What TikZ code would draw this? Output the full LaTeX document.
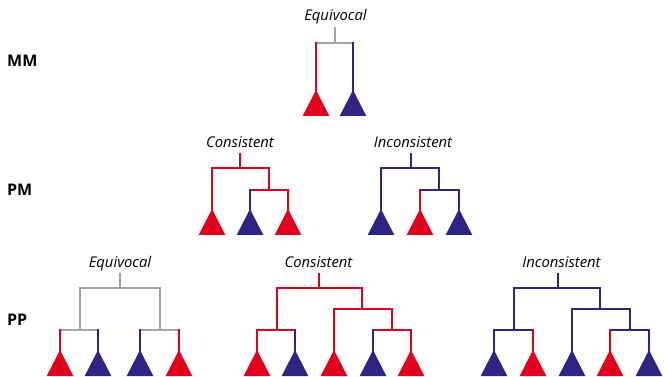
\documentclass[tikz,border=0pt]{standalone}
\usepackage{fontspec}
\setmainfont{Open Sans}
\usetikzlibrary{calc}

\definecolor{cred}{HTML}{E2001A}
\definecolor{cblue}{HTML}{2E2483}
\definecolor{cgray}{HTML}{A3A3A3}

\tikzset{
  branch/.style={line width=2pt, line cap=rect},
  treelabel/.style={font=\fontsize{14.8}{17}\selectfont\itshape, anchor=base,
    inner xsep=0pt, inner ysep=3pt, text depth=3.5pt},
  rowlabel/.style={font=\fontsize{16}{18}\selectfont\bfseries, anchor=base west, inner sep=0pt},
}

% leaf triangle: name, x, apex y, colour
\newcommand\leafnode[4]{%
  \coordinate (#1) at (#2,#3);
  \fill[#4] (#1) -- ++(-13.3,26) -- ++(26.6,0) -- cycle;}

% split: parent name, colour of the bar, left child, right child
\newcommand\splitbar[4]{%
  \draw[branch,#2] (#3 |- #1) -- (#4 |- #1);}
% vertical from a parent's bar down to a child
\newcommand\drop[3]{%
  \draw[branch,#3] (#2 |- #1) -- (#2);}

\begin{document}
\begin{tikzpicture}[x=1pt,y=-1pt]
\useasboundingbox (0,0) rectangle (665,377);

% row labels
\node[rowlabel] (mm) at (7,67) {MM};
\node[rowlabel] (pm) at (7,196) {PM};
\node[rowlabel] (pp) at (7,326) {PP};

% ---------- MM: equivocal ----------
\node[treelabel] (l1) at (335.5,21) {Equivocal};
\coordinate (r1) at (335,43);
\leafnode{a1}{316}{90}{cred}
\leafnode{a2}{353}{90}{cblue}
\draw[branch,cgray] (r1) -- (r1 |- l1.south);
\splitbar{r1}{cgray}{a1}{a2}
\drop{r1}{a1}{cred}
\drop{r1}{a2}{cblue}

% ---------- PM: consistent ----------
\node[treelabel] (l2) at (240,147.5) {Consistent};
\coordinate (r2) at (240,168);
\coordinate (n2) at (269,190);
\leafnode{b1}{212}{209}{cred}
\leafnode{b2}{250}{209}{cblue}
\leafnode{b3}{288}{209}{cred}
\draw[branch,cred] (r2) -- (r2 |- l2.south);
\splitbar{r2}{cred}{b1}{n2}
\drop{r2}{b1}{cred}
\drop{r2}{n2}{cred}
\splitbar{n2}{cred}{b2}{b3}
\drop{n2}{b2}{cblue}
\drop{n2}{b3}{cred}

% ---------- PM: inconsistent ----------
\node[treelabel] (l3) at (413,147.5) {Inconsistent};
\coordinate (r3) at (411,168);
\coordinate (n3) at (439,190);
\leafnode{c1}{381}{209}{cblue}
\leafnode{c2}{420}{209}{cred}
\leafnode{c3}{459}{209}{cblue}
\draw[branch,cblue] (r3) -- (r3 |- l3.south);
\splitbar{r3}{cblue}{c1}{n3}
\drop{r3}{c1}{cblue}
\drop{r3}{n3}{cblue}
\splitbar{n3}{cblue}{c2}{c3}
\drop{n3}{c2}{cred}
\drop{n3}{c3}{cblue}

% ---------- PP: equivocal ----------
\node[treelabel] (l4) at (120,267.5) {Equivocal};
\coordinate (r4) at (120,288);
\coordinate (n4a) at (80,330);
\coordinate (n4b) at (160,330);
\leafnode{d1}{60}{350}{cred}
\leafnode{d2}{98}{350}{cblue}
\leafnode{d3}{140}{350}{cblue}
\leafnode{d4}{179}{350}{cred}
\draw[branch,cgray] (r4) -- (r4 |- l4.south);
\splitbar{r4}{cgray}{n4a}{n4b}
\drop{r4}{n4a}{cgray}
\drop{r4}{n4b}{cgray}
\splitbar{n4a}{cgray}{d1}{d2}
\drop{n4a}{d1}{cred}
\drop{n4a}{d2}{cblue}
\splitbar{n4b}{cgray}{d3}{d4}
\drop{n4b}{d3}{cblue}
\drop{n4b}{d4}{cred}

% ---------- PP: consistent ----------
\node[treelabel] (l5) at (318.5,267.5) {Consistent};
\coordinate (r5) at (319,288);
\coordinate (n5a) at (277,330);
\coordinate (n5b) at (362,309);
\coordinate (n5c) at (392,330);
\leafnode{e1}{257}{350}{cred}
\leafnode{e2}{295}{350}{cblue}
\leafnode{e3}{334}{350}{cred}
\leafnode{e4}{373}{350}{cblue}
\leafnode{e5}{411}{350}{cred}
\draw[branch,cred] (r5) -- (r5 |- l5.south);
\splitbar{r5}{cred}{n5a}{n5b}
\drop{r5}{n5a}{cred}
\drop{r5}{n5b}{cred}
\splitbar{n5a}{cred}{e1}{e2}
\drop{n5a}{e1}{cred}
\drop{n5a}{e2}{cblue}
\splitbar{n5b}{cred}{e3}{n5c}
\drop{n5b}{e3}{cred}
\drop{n5b}{n5c}{cred}
\splitbar{n5c}{cred}{e4}{e5}
\drop{n5c}{e4}{cblue}
\drop{n5c}{e5}{cred}

% ---------- PP: inconsistent ----------
\node[treelabel] (l6) at (561.5,267.5) {Inconsistent};
\coordinate (r6) at (558,288);
\coordinate (n6a) at (514,330);
\coordinate (n6b) at (600,309);
\coordinate (n6c) at (630,330);
\leafnode{f1}{494}{350}{cblue}
\leafnode{f2}{533}{350}{cred}
\leafnode{f3}{572}{350}{cblue}
\leafnode{f4}{610}{350}{cred}
\leafnode{f5}{649}{350}{cblue}
\draw[branch,cblue] (r6) -- (r6 |- l6.south);
\splitbar{r6}{cblue}{n6a}{n6b}
\drop{r6}{n6a}{cblue}
\drop{r6}{n6b}{cblue}
\splitbar{n6a}{cblue}{f1}{f2}
\drop{n6a}{f1}{cblue}
\drop{n6a}{f2}{cred}
\splitbar{n6b}{cblue}{f3}{n6c}
\drop{n6b}{f3}{cblue}
\drop{n6b}{n6c}{cblue}
\splitbar{n6c}{cblue}{f4}{f5}
\drop{n6c}{f4}{cred}
\drop{n6c}{f5}{cblue}
\end{tikzpicture}
\end{document}
